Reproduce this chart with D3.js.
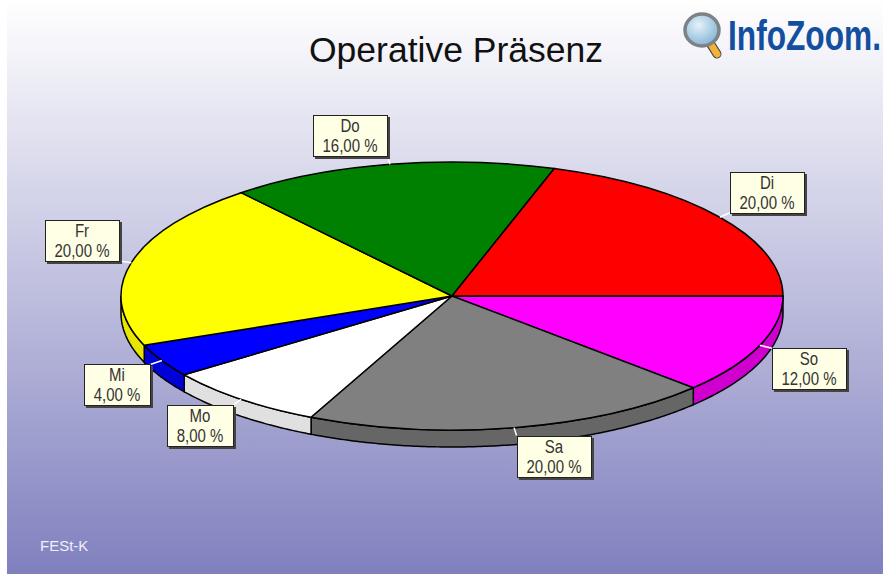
<!DOCTYPE html>
<html>
<head>
<meta charset="utf-8">
<script src="https://cdn.jsdelivr.net/npm/d3@7"></script>
<style>
html, body { margin: 0; padding: 0; background: #fff; }
svg { display: block; }
</style>
</head>
<body>
<div id="chart"></div>
<script>
// pie slices, clockwise starting at 3 o'clock
var days = ["So", "Sa", "Mo", "Mi", "Fr", "Do", "Di"];
var shares = [12, 20, 8, 4, 20, 16, 20];
var topColors = ["#ff00ff", "#808080", "#ffffff", "#0000ff", "#ffff00", "#008000", "#ff0000"];
var sideColors = ["#cf00cf", "#666666", "#e0e0e0", "#0000d8", "#e6e600", "#006600", "#cc0000"];
var chartTitle = "Operative Präsenz";
var footerText = "FESt-K";
var logoText = "InfoZoom.";

var width = 883, height = 574;
var cx = 452, cy = 296, rx = 331, ry = 134, depth = 17;
var boxH = 41;

var svg = d3.select("#chart").append("svg")
    .attr("width", width)
    .attr("height", height);

var defs = svg.append("defs");

var bg = defs.append("linearGradient")
    .attr("id", "bg")
    .attr("x1", 0).attr("y1", 0)
    .attr("x2", 0).attr("y2", 1);
bg.append("stop").attr("offset", 0).attr("stop-color", "#ffffff");
bg.append("stop").attr("offset", 1).attr("stop-color", "#8080bf");

var lens = defs.append("radialGradient")
    .attr("id", "lens")
    .attr("cx", 0.4).attr("cy", 0.35).attr("r", 0.7);
lens.append("stop").attr("offset", 0).attr("stop-color", "#e6f2f8");
lens.append("stop").attr("offset", 1).attr("stop-color", "#7fb2d6");

svg.append("rect")
    .attr("x", 7)
    .attr("width", width - 7)
    .attr("height", height)
    .attr("fill", "url(#bg)");

// title and footer
svg.append("text")
    .attr("x", 456)
    .attr("y", 62)
    .attr("text-anchor", "middle")
    .attr("font-family", "Liberation Sans")
    .attr("font-size", 35.5)
    .attr("fill", "#111")
    .text(chartTitle);

svg.append("text")
    .attr("x", 40)
    .attr("y", 551)
    .attr("font-family", "Liberation Sans")
    .attr("font-size", 15)
    .attr("fill", "#f0f0f8")
    .text(footerText);

// logo
var logo = svg.append("g");
logo.append("line")
    .attr("x1", 710).attr("y1", 43)
    .attr("x2", 717).attr("y2", 54)
    .attr("stroke", "#444")
    .attr("stroke-width", 9)
    .attr("stroke-linecap", "round");
logo.append("line")
    .attr("x1", 712).attr("y1", 46)
    .attr("x2", 717).attr("y2", 54)
    .attr("stroke", "#efb23a")
    .attr("stroke-width", 7)
    .attr("stroke-linecap", "round");
logo.append("ellipse")
    .attr("cx", 702).attr("cy", 30)
    .attr("rx", 17).attr("ry", 16)
    .attr("fill", "url(#lens)")
    .attr("stroke", "#7d8287")
    .attr("stroke-width", 3.5);
var logoLabel = logo.append("text")
    .attr("font-family", "Liberation Sans")
    .attr("font-weight", "bold")
    .attr("font-size", 42)
    .attr("fill", "#124f9e")
    .text(logoText);
// squeeze the wordmark so it stays inside the picture
logoLabel.attr("transform", "translate(728,50) scale(" + (153 / logoLabel.node().getComputedTextLength()) + ",1)");

// scales map the unit circle onto the tilted disc
var x = d3.scaleLinear().domain([-1, 1]).range([cx - rx, cx + rx]);
var y = d3.scaleLinear().domain([-1, 1]).range([cy - ry, cy + ry]);

var pie = d3.pie()
    .sort(null)
    .startAngle(Math.PI / 2)
    .endAngle(Math.PI * 2.5);
var arcs = pie(shares);

// d3.pie angles start at 12 o'clock, move them to 3 o'clock for cos/sin
function px(a) { return x(Math.cos(a - Math.PI / 2)); }
function py(a) { return y(Math.sin(a - Math.PI / 2)); }

// rim, only the front half of the disc shows it
var frontStart = Math.PI / 2, frontEnd = Math.PI * 1.5;

function sidePath(d) {
    var a0 = Math.max(d.startAngle, frontStart);
    var a1 = Math.min(d.endAngle, frontEnd);
    if (a1 <= a0) return null;
    var steps = d3.range(a0, a1, 0.01).concat([a1]);
    var outline = steps.map(function(a) { return [px(a), py(a)]; })
        .concat(steps.slice().reverse().map(function(a) { return [px(a), py(a) + depth]; }));
    return d3.line()(outline) + "Z";
}

svg.append("g").selectAll("path")
    .data(arcs)
    .enter().append("path")
    .attr("d", sidePath)
    .attr("fill", function(d, i) { return sideColors[i]; })
    .attr("stroke", "#000")
    .attr("stroke-width", 1.5);

// top of the disc
var arc = d3.arc().innerRadius(0).outerRadius(1);

svg.append("g")
    .attr("transform", "translate(" + cx + "," + cy + ") scale(" + rx + "," + ry + ")")
    .selectAll("path")
    .data(arcs)
    .enter().append("path")
    .attr("d", arc)
    .attr("fill", function(d, i) { return topColors[i]; })
    .attr("stroke", "#000")
    .attr("stroke-width", 1.5)
    .attr("vector-effect", "non-scaling-stroke");

// labels hang on a short white leader at each slice's middle angle
var labels = svg.append("g").selectAll("g")
    .data(arcs)
    .enter().append("g");

labels.each(function(d, i) {
    var g = d3.select(this);
    var mid = (d.startAngle + d.endAngle) / 2;
    var x0 = px(mid), y0 = py(mid);
    var x1 = cx + (x0 - cx) * 1.04;
    var y1 = cy + (y0 - cy) * 1.06;
    var right = x0 > cx, below = y0 > cy;

    g.append("line")
        .attr("x1", x0).attr("y1", y0)
        .attr("x2", x1).attr("y2", y1)
        .attr("stroke", "#fff")
        .attr("stroke-width", 1.5);

    var shadow = g.append("rect").attr("fill", "#444");
    var box = g.append("rect")
        .attr("fill", "#ffffe6")
        .attr("stroke", "#222")
        .attr("stroke-width", 1);

    var name = g.append("text").text(days[i]);
    var value = g.append("text").text(d3.format(".2f")(d.value).replace(".", ",") + " %");
    var texts = g.selectAll("text")
        .attr("text-anchor", "middle")
        .attr("font-family", "Liberation Sans")
        .attr("font-size", 15)
        .attr("fill", "#333");

    // the original face is tall and narrow: measure at 15px, draw taller in the same width
    var boxW = Math.round(value.node().getComputedTextLength()) + 19;
    texts.each(function() {
        var len = this.getComputedTextLength();
        d3.select(this)
            .attr("font-size", 18)
            .attr("textLength", len)
            .attr("lengthAdjust", "spacingAndGlyphs");
    });

    var left = Math.round(right ? x1 : x1 - boxW);
    var top = Math.round(below ? y1 : y1 - boxH);

    box.attr("x", left + 0.5).attr("y", top + 0.5).attr("width", boxW).attr("height", boxH);
    shadow.attr("x", left + 2).attr("y", top + 2).attr("width", boxW + 1).attr("height", boxH + 1);
    name.attr("x", left + boxW / 2).attr("y", top + 17);
    value.attr("x", left + boxW / 2).attr("y", top + 37);
});
</script>
</body>
</html>
